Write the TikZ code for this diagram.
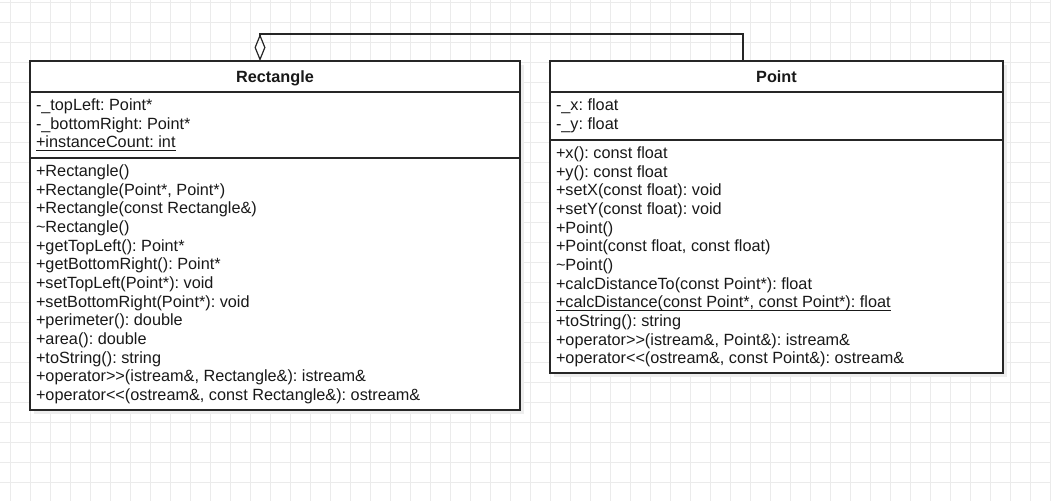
\documentclass[tikz,border=0pt]{standalone}
\usepackage{fontspec}
\setmainfont{Liberation Sans}[Ligatures=TeXOff]
\usetikzlibrary{arrows.meta,calc}
\newcommand\myul[1]{\setbox0\hbox{#1}\rlap{\rule[-3pt]{\wd0}{0.8pt}}\box0}
\newcommand\shl{<\kern0pt<}
\newcommand\shr{>\kern0pt>}
\frenchspacing
\begin{document}
\begin{tikzpicture}[x=1pt,y=-1pt,
  every node/.style={inner sep=0pt, outer sep=0pt},
  txt/.style={anchor=base west, font=\fontsize{16.25pt}{18.67pt}\selectfont, text=black!90},
  part/.style={draw=black!85, line width=1.2pt, fill=white, anchor=north west},
  hdr/.style={part, minimum height=31pt, text height=12pt, text depth=0pt, font=\fontsize{16.25pt}{18.67pt}\selectfont\bfseries, text=black!90},
  shadowbox/.style={fill=black!7},
  gridline/.style={draw=black!8, line width=0.7pt},
  conn/.style={draw=black!85, line width=1.2pt, -{Diamond[open, length=27pt, width=11pt]}},
  ]
\useasboundingbox (0,0) rectangle (1051,501);
\fill[white] (0,0) rectangle (1051,501);
% grid
\foreach \x in {10,30,...,1050} \draw[gridline] (\x,0) -- (\x,501);
\foreach \y in {2,22,...,500} \draw[gridline] (0,\y) -- (1051,\y);
% shadows
\fill[shadowbox] (34,65) rectangle (524,414);
\fill[shadowbox] (554,65) rectangle (1007,377);
% Rectangle class
\node[hdr, minimum width=490pt] (rhead) at (30,61) {Rectangle};
\node[part, minimum width=490pt, minimum height=66pt] (rattr) at (rhead.south west) {};
\node[part, minimum width=490pt, minimum height=252pt] (rmeth) at (rattr.south west) {};
\foreach \t [count=\i] in {{-\_topLeft: Point*},{-\_bottomRight: Point*},{\myul{+instanceCount: int}}}
  \node[txt] (ra\i) at (36,{110.6+(\i-1)*18.67}) {\t};
\foreach \t [count=\i] in {{+Rectangle()},{+Rectangle(Point*, Point*)},{+Rectangle(const Rectangle\&)},{\textasciitilde Rectangle()},{+getTopLeft(): Point*},{+getBottomRight(): Point*},{+setTopLeft(Point*): void},{+setBottomRight(Point*): void},{+perimeter(): double},{+area(): double},{+toString(): string},{+operator\shr(istream\&, Rectangle\&): istream\&},{+operator\shl(ostream\&, const Rectangle\&): ostream\&}}
  \node[txt] (rm\i) at (36,{176.6+(\i-1)*18.67}) {\t};
% Point class
\node[hdr, minimum width=453pt] (pthead) at (550,61) {Point};
\node[part, minimum width=453pt, minimum height=48pt] (ptattr) at (pthead.south west) {};
\node[part, minimum width=453pt, minimum height=233pt] (ptmeth) at (ptattr.south west) {};
\foreach \t [count=\i] in {{-\_x: float},{-\_y: float}}
  \node[txt] (pa\i) at (556,{110.6+(\i-1)*18.67}) {\t};
\foreach \t [count=\i] in {{+x(): const float},{+y(): const float},{+setX(const float): void},{+setY(const float): void},{+Point()},{+Point(const float, const float)},{\textasciitilde Point()},{+calcDistanceTo(const Point*): float},{\myul{+calcDistance(const Point*, const Point*): float}},{+toString(): string},{+operator\shr(istream\&, Point\&): istream\&},{+operator\shl(ostream\&, const Point\&): ostream\&}}
  \node[txt] (pm\i) at (556,{158.6+(\i-1)*18.67}) {\t};
% aggregation
\draw[conn] ($(pthead.north west)+(193,0)$) -- ++(0,-27) -| ($(rhead.north west)+(230,0)$);
\end{tikzpicture}
\end{document}
